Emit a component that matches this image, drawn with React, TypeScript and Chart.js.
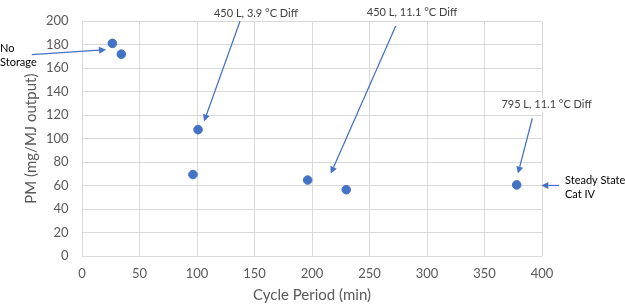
import { useEffect, useRef } from "react";
import Chart from "chart.js/auto";

// Data
const cyclePeriod = [26.4, 34.2, 100.9, 96.5, 196.2, 229.8, 378];
const pmOutput = [181.2, 172, 107.7, 69.4, 64.7, 56.5, 60.6];

const xTickMin = 0;
const xTickMax = 400;
const xTickStep = 50;
const yTickMin = 0;
const yTickMax = 200;
const yTickStep = 20;

// Annotations, in data units
const noteTexts = [
  ["No", "Storage"],
  ["450 L, 3.9 °C Diff"],
  ["450 L, 11.1 °C Diff"],
  ["795 L, 11.1 °C Diff"],
  ["Steady State", "Cat IV"],
];
const noteTextX = [-71.3, 151.3, 287, 404, 420];
const noteTextY = [176.6, 206.6, 207.4, 128.9, 64.2];
const arrowFromX = [-43.7, 137.4, 272.8, 391.6, 415];
const arrowFromY = [171.7, 200, 195.9, 117.4, 60.1];
const arrowToX = [20.9, 106.1, 216.3, 379.1, 399.4];
const arrowToY = [175.8, 114.6, 70.2, 70.2, 60.1];

const FONT = "Lato, 'Noto Sans', sans-serif";
const BLUE = "#4472C4";

const notesPlugin = {
  id: "notes",
  afterDatasetsDraw(chart: any) {
    const { ctx, scales } = chart;
    const xs = scales.x;
    const ys = scales.y;
    ctx.save();
    // arrows
    for (let i = 0; i < arrowFromX.length; i++) {
      const x1 = xs.getPixelForValue(arrowFromX[i]);
      const y1 = ys.getPixelForValue(arrowFromY[i]);
      const x2 = xs.getPixelForValue(arrowToX[i]);
      const y2 = ys.getPixelForValue(arrowToY[i]);
      const ang = Math.atan2(y2 - y1, x2 - x1);
      const hl = 7;
      const hw = 3.5;
      const bx = x2 - hl * Math.cos(ang);
      const by = y2 - hl * Math.sin(ang);
      ctx.strokeStyle = BLUE;
      ctx.lineWidth = 1.25;
      ctx.beginPath();
      ctx.moveTo(x1, y1);
      ctx.lineTo(bx, by);
      ctx.stroke();
      ctx.fillStyle = BLUE;
      ctx.beginPath();
      ctx.moveTo(x2, y2);
      ctx.lineTo(bx + hw * Math.sin(ang), by - hw * Math.cos(ang));
      ctx.lineTo(bx - hw * Math.sin(ang), by + hw * Math.cos(ang));
      ctx.closePath();
      ctx.fill();
    }
    // texts
    for (let i = 0; i < noteTexts.length; i++) {
      const lines = noteTexts[i];
      const twoLine = lines.length > 1;
      ctx.font = `11px ${FONT}`;
      ctx.textBaseline = "middle";
      ctx.textAlign = twoLine ? "left" : "center";
      const x = xs.getPixelForValue(noteTextX[i]);
      const y = ys.getPixelForValue(noteTextY[i]);
      lines.forEach((line: string, j: number) => {
        const ly = y + j * 13.5;
        const w = ctx.measureText(line).width;
        if (!twoLine) {
          ctx.fillStyle = "#ffffff";
          ctx.fillRect(x - w / 2 - 3, ly - 7, w + 6, 14);
        }
        ctx.fillStyle = twoLine ? "#000000" : "#404040";
        ctx.fillText(line, x, ly);
      });
    }
    ctx.restore();
  },
};

export default function App() {
  const ref = useRef<HTMLCanvasElement | null>(null);
  useEffect(() => {
    if (!ref.current) return;
    const chart = new Chart(ref.current, {
      type: "scatter",
      data: {
        datasets: [
          {
            data: cyclePeriod.map((x, i) => ({ x, y: pmOutput[i] })),
            backgroundColor: BLUE,
            borderColor: BLUE,
            pointRadius: 4.3,
            pointHoverRadius: 4.3,
          },
        ],
      },
      options: {
        responsive: false,
        animation: false,
        layout: { padding: { top: 14, right: 83, left: 0, bottom: 0 } },
        plugins: {
          legend: { display: false },
          tooltip: { enabled: false },
        },
        scales: {
          x: {
            type: "linear",
            min: xTickMin,
            max: xTickMax,
            ticks: {
              stepSize: xTickStep,
              color: "#595959",
              font: { family: FONT, size: 13 },
              padding: 10,
            },
            grid: { color: "#d9d9d9", drawTicks: false },
            border: { display: false },
            title: {
              display: true,
              text: "Cycle Period (min)",
              color: "#595959",
              font: { family: FONT, size: 15 },
              padding: { top: 2, bottom: 2 },
            },
            afterFit: (s: any) => {
              s.height = 50;
            },
          },
          y: {
            type: "linear",
            min: yTickMin,
            max: yTickMax,
            ticks: {
              stepSize: yTickStep,
              color: "#595959",
              font: { family: FONT, size: 13 },
              padding: 13.5,
            },
            grid: { color: "#d9d9d9", drawTicks: false },
            border: { display: false },
            title: {
              display: true,
              text: "PM (mg/MJ output)",
              color: "#595959",
              font: { family: FONT, size: 15 },
              padding: { top: 22.5, bottom: 2 },
            },
            afterFit: (s: any) => {
              s.width = 82;
            },
          },
        },
      },
      plugins: [notesPlugin],
    });
    return () => chart.destroy();
  }, []);
  return (
    <div style={{ position: "absolute", left: 0, top: 0, width: 625, height: 306, background: "#fff" }}>
      <canvas ref={ref} width={625} height={306} />
    </div>
  );
}
